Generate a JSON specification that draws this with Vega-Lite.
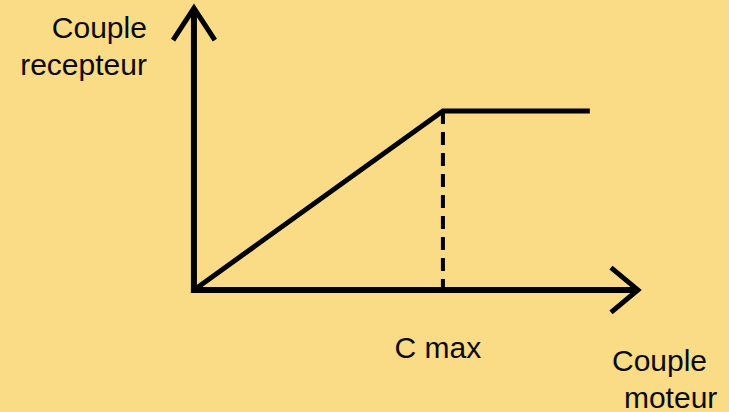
{
  "$schema": "https://vega.github.io/schema/vega-lite/v6.json",
  "width": 729,
  "height": 412,
  "autosize": {"type": "none"},
  "padding": 0,
  "background": "#F9DC85",
  "config": {"view": {"stroke": null}},
  "datasets": {
    "axes": [
      {"seg": "yaxis", "o": 0, "x": 0, "y": -0.017},
      {"seg": "yaxis", "o": 1, "x": 0, "y": 1.575},
      {"seg": "xaxis", "o": 0, "x": -0.012, "y": 0},
      {"seg": "xaxis", "o": 1, "x": 1.783, "y": 0},
      {"seg": "yarrow", "o": 0, "x": -0.084, "y": 1.396},
      {"seg": "yarrow", "o": 1, "x": 0, "y": 1.575},
      {"seg": "yarrow", "o": 2, "x": 0.084, "y": 1.396},
      {"seg": "xarrow", "o": 0, "x": 1.675, "y": 0.125},
      {"seg": "xarrow", "o": 1, "x": 1.783, "y": 0},
      {"seg": "xarrow", "o": 2, "x": 1.675, "y": -0.125}
    ],
    "curve": [
      {"o": 0, "x": 0, "y": 0},
      {"o": 1, "x": 1, "y": 1},
      {"o": 2, "x": 1.59, "y": 1}
    ],
    "cmax": [
      {"o": 0, "x": 1, "y": 1},
      {"o": 1, "x": 1, "y": 0}
    ],
    "labels": [
      {"text": "Couple", "x": -0.189, "y": 1.408, "align": "right"},
      {"text": "recepteur", "x": -0.189, "y": 1.201, "align": "right"},
      {"text": "C max", "x": 0.98, "y": -0.38, "align": "center"},
      {"text": "Couple", "x": 1.679, "y": -0.4525, "align": "left"},
      {"text": "moteur", "x": 1.727, "y": -0.659, "align": "left"}
    ]
  },
  "encoding": {
    "x": {"field": "x", "type": "quantitative", "axis": null, "scale": {"domain": [-0.779, 2.149], "nice": false, "zero": false}},
    "y": {"field": "y", "type": "quantitative", "axis": null, "scale": {"domain": [-0.682, 1.62], "nice": false, "zero": false}}
  },
  "layer": [
    {
      "data": {"name": "axes"},
      "transform": [{"filter": "datum.seg == 'yaxis' || datum.seg == 'xaxis'"}],
      "mark": {"type": "line", "color": "#000000", "strokeWidth": 6, "strokeCap": "butt"},
      "encoding": {"detail": {"field": "seg"}, "order": {"field": "o"}}
    },
    {
      "data": {"name": "axes"},
      "transform": [{"filter": "datum.seg == 'yarrow' || datum.seg == 'xarrow'"}],
      "mark": {"type": "line", "color": "#000000", "strokeWidth": 5, "strokeCap": "butt", "strokeJoin": "miter"},
      "encoding": {"detail": {"field": "seg"}, "order": {"field": "o"}}
    },
    {
      "data": {"name": "curve"},
      "mark": {"type": "line", "color": "#000000", "strokeWidth": 5, "strokeCap": "butt", "strokeJoin": "miter"},
      "encoding": {"order": {"field": "o"}}
    },
    {
      "data": {"name": "cmax"},
      "mark": {"type": "line", "color": "#000000", "strokeWidth": 4, "strokeDash": [13, 8], "strokeCap": "butt"},
      "encoding": {"order": {"field": "o"}}
    },
    {
      "data": {"name": "labels"},
      "transform": [{"filter": "datum.align == 'right'"}],
      "mark": {"type": "text", "font": "Liberation Sans", "fontSize": 30, "color": "#0a0a0a", "baseline": "alphabetic", "align": "right"},
      "encoding": {"text": {"field": "text"}}
    },
    {
      "data": {"name": "labels"},
      "transform": [{"filter": "datum.align == 'center'"}],
      "mark": {"type": "text", "font": "Liberation Sans", "fontSize": 30, "color": "#0a0a0a", "baseline": "alphabetic", "align": "center"},
      "encoding": {"text": {"field": "text"}}
    },
    {
      "data": {"name": "labels"},
      "transform": [{"filter": "datum.align == 'left'"}],
      "mark": {"type": "text", "font": "Liberation Sans", "fontSize": 30, "color": "#0a0a0a", "baseline": "alphabetic", "align": "left"},
      "encoding": {"text": {"field": "text"}}
    }
  ]
}
